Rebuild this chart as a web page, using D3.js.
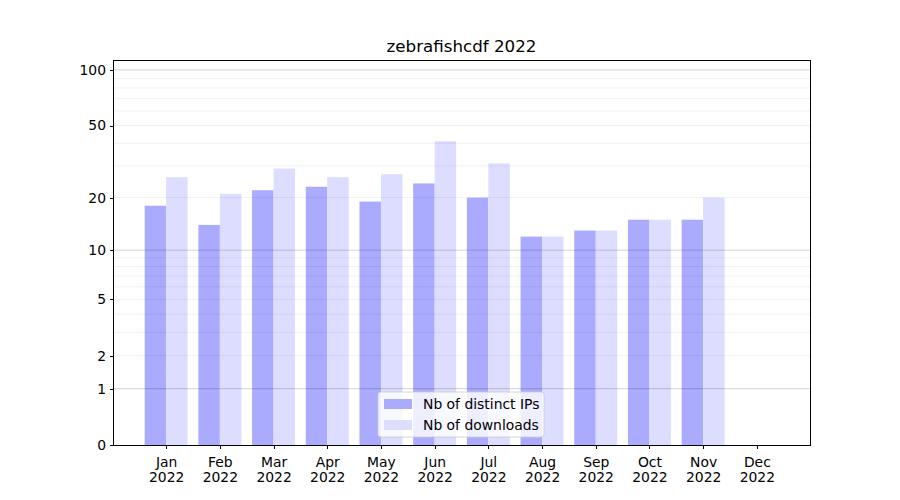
<!DOCTYPE html>
<html><head><meta charset="utf-8">
<script src="https://cdn.jsdelivr.net/npm/d3@7"></script>
<style>body{margin:0;background:#fff}svg text{font-family:"DejaVu Sans",sans-serif}</style>
</head><body>
<script>
const months = ["Jan","Feb","Mar","Apr","May","Jun","Jul","Aug","Sep","Oct","Nov","Dec"];
const yearLabel = "2022";
const distinctIPs = [18,14,22,23,19,24,20,12,13,15,15,0];
const downloads = [26,21,29,26,27,41,31,12,13,15,20,0];
const yTicks = [0,1,2,5,10,20,50,100];
const majorGrid = [1,10,100];
const minorGrid = [2,3,4,5,6,7,8,9,20,30,40,50,60,70,80,90];
const seriesNames = ["Nb of distinct IPs","Nb of downloads"];
const colors = ["#aaaaff","#ddddff"];
const title = "zebrafishcdf 2022";

const W=900,H=500, L=113, R=810, T=60, B=445;
const svg=d3.select("body").append("svg").attr("width",W).attr("height",H);

const bw=0.4;
const span=(months.length-1+bw)-(-bw);
const x=d3.scaleLinear().domain([-bw-0.05*span, months.length-1+bw+0.05*span]).range([L,R]);
const y=d3.scaleSymlog().constant(1).domain([0,113.2]).range([B,T]);

// bars
[distinctIPs,downloads].forEach((arr,si)=>{
  svg.append("g").selectAll("rect").data(arr).join("rect")
    .attr("x",(d,i)=>x(i+(si===0?-bw:0)))
    .attr("width",x(bw)-x(0))
    .attr("y",d=>y(d)).attr("height",d=>B-y(d))
    .attr("fill",colors[si]);
});

// grid on top
const g=svg.append("g");
g.selectAll(".minor").data(minorGrid).join("line")
  .attr("x1",L).attr("x2",R).attr("y1",d=>y(d)).attr("y2",d=>y(d))
  .attr("stroke","#000").attr("stroke-opacity",0.075).attr("stroke-width",0.8);
g.selectAll(".major").data(majorGrid).join("line")
  .attr("x1",L).attr("x2",R).attr("y1",d=>y(d)).attr("y2",d=>y(d))
  .attr("stroke","#000").attr("stroke-opacity",0.22).attr("stroke-width",0.8);

// axes
const yAxis=d3.axisLeft(y).tickValues(yTicks).tickFormat(d3.format("d")).tickSizeOuter(0).tickSize(3.5).tickPadding(3.5);
const ya=svg.append("g").attr("transform",`translate(${L},0)`).call(yAxis);
const xAxis=d3.axisBottom(x).tickValues(d3.range(months.length)).tickFormat("").tickSizeOuter(0).tickSize(3.5);
const xa=svg.append("g").attr("transform",`translate(0,${B})`).call(xAxis);
[ya,xa].forEach(a=>{a.select(".domain").remove();a.selectAll("line").attr("stroke","#000").attr("stroke-width",1).attr("shape-rendering","crispEdges");
  a.selectAll("text").attr("font-size","13.9px").attr("fill","#000").style("font-family","DejaVu Sans");});

xa.selectAll(".tick").each(function(d){
  const t=d3.select(this).append("text").attr("text-anchor","middle").attr("font-size","13.9px").attr("fill","#000");
  t.append("tspan").attr("x",0).attr("y",22).text(months[d]);
  t.append("tspan").attr("x",0).attr("y",37).text(yearLabel);
});

// frame
svg.append("rect").attr("x",L).attr("y",T).attr("width",R-L).attr("height",B-T)
  .attr("fill","none").attr("stroke","#000").attr("stroke-width",1).attr("shape-rendering","crispEdges");

// title
svg.append("text").attr("x",(L+R)/2).attr("y",T-8).attr("text-anchor","middle")
  .attr("font-size","16.7px").attr("fill","#000").text(title);

// legend
const lg=svg.append("g").attr("transform","translate(378,392)");
lg.append("rect").attr("width",166).attr("height",45).attr("rx",3)
  .attr("fill","#fff").attr("fill-opacity",0.8).attr("stroke","#cccccc").attr("stroke-width",0.8);
seriesNames.forEach((n,i)=>{
  lg.append("rect").attr("x",6).attr("y",7+i*21).attr("width",28).attr("height",10).attr("fill",colors[i]);
  lg.append("text").attr("x",45).attr("y",17+i*21).attr("font-size","13.9px").attr("fill","#000").text(n);
});
</script>
</body></html>
